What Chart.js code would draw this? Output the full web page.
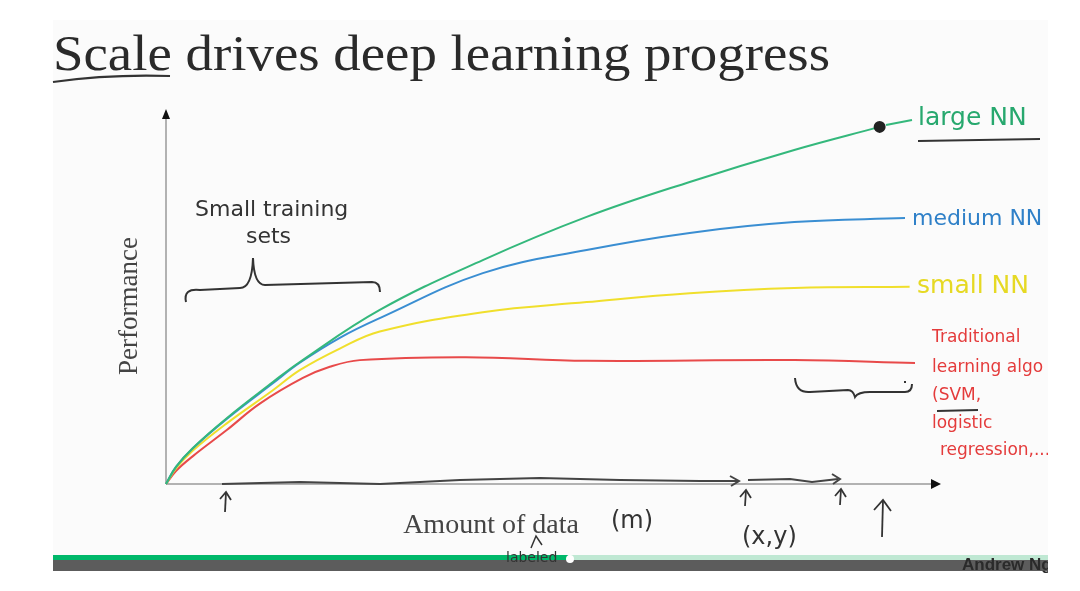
<!DOCTYPE html>
<html>
<head>
<meta charset="utf-8">
<script src="https://cdn.jsdelivr.net/npm/chart.js@4.4.1/dist/chart.umd.min.js"></script>
<style>
  body { margin: 0; background: #fff; }
  #wrap { width: 1080px; height: 591px; position: relative; }
</style>
</head>
<body>
<div id="wrap"><canvas id="scale-chart"></canvas></div>
<script>
/* amount of data (x) and performance (y), both on a 0-100 scale */
const largeAmount = [0, 1.3, 3.5, 7.9, 13.9, 17.4, 27.8, 41.2, 54.7, 68.1, 81.7, 92.8];
const largePerf = [0, 4.6, 9.7, 17.7, 27.4, 32.8, 46.8, 60.2, 71.8, 81.2, 89.8, 96.0];
const mediumAmount = [0, 1.3, 3.5, 7.9, 13.9, 17.4, 22.6, 27.8, 41.2, 54.7, 68.1, 81.7, 96.1];
const mediumPerf = [0, 4.6, 9.6, 17.5, 27.1, 32.6, 39.3, 44.6, 56.7, 62.9, 67.5, 70.4, 71.5];
const smallAmount = [0, 1.3, 3.5, 7.9, 13.9, 17.4, 22.6, 27.8, 41.2, 54.7, 68.1, 81.7, 96.7];
const smallPerf = [0, 4.2, 9.0, 16.3, 25.2, 30.6, 36.4, 41.0, 46.2, 48.9, 51.3, 52.7, 53.0];
const tradAmount = [0, 1.3, 3.5, 7.9, 12.2, 17.8, 21.3, 25.2, 39.0, 54.7, 81.7, 97.4];
const tradPerf = [0, 3.5, 7.5, 14.5, 21.6, 28.5, 31.5, 33.3, 34.1, 33.1, 33.3, 32.5];

const seriesNames = ["large NN", "medium NN", "small NN", "Traditional learning algo"];
const redNotes = ["Traditional", "learning algo", "(SVM,", "logistic", "regression,...)"];

function toPoints(xs, ys) {
  return xs.map((x, i) => ({ x: x, y: ys[i] }));
}

function lineSet(label, xs, ys, color) {
  return {
    label: label,
    data: toPoints(xs, ys),
    borderColor: color,
    borderWidth: 2,
    pointRadius: 0,
    tension: 0.4,
    clip: false,
  };
}

const largeSet = lineSet(seriesNames[0], largeAmount, largePerf, "#34b87c");
/* the black dot at the end of the large net curve */
largeSet.pointRadius = largeAmount.map((_, i) => (i === largeAmount.length - 1 ? 5 : 0));
largeSet.pointBackgroundColor = "#222";
largeSet.pointBorderColor = "#222";

function handLine(ctx, pts, color, width) {
  ctx.strokeStyle = color;
  ctx.lineWidth = width || 2;
  ctx.beginPath();
  ctx.moveTo(pts[0][0], pts[0][1]);
  for (let i = 1; i < pts.length; i++) ctx.lineTo(pts[i][0], pts[i][1]);
  ctx.stroke();
}

function upArrow(ctx, x, y1, y2, head) {
  handLine(ctx, [[x, y2], [x + 1, y1]], "#333", 1.8);
  handLine(ctx, [[x - head, y1 + head + 2], [x + 1, y1], [x + head + 1, y1 + head + 3]], "#333", 1.8);
}

/* slide background, axes and the hand written notes */
const sketchPlugin = {
  id: "sketch",
  beforeDraw(chart) {
    const ctx = chart.ctx;
    ctx.save();
    ctx.fillStyle = "#fbfbfb";
    ctx.fillRect(53, 20, 995, 536);
    ctx.restore();
  },
  beforeDatasetsDraw(chart) {
    const ctx = chart.ctx;
    const a = chart.chartArea;
    ctx.save();
    ctx.strokeStyle = "#9a9a9a";
    ctx.lineWidth = 1.5;
    ctx.beginPath();
    ctx.moveTo(a.left, a.bottom);
    ctx.lineTo(a.left, a.top + 4);
    ctx.moveTo(a.left, a.bottom);
    ctx.lineTo(a.right, a.bottom);
    ctx.stroke();
    ctx.fillStyle = "#111";
    ctx.beginPath();
    ctx.moveTo(a.left, a.top - 3);
    ctx.lineTo(a.left - 4, a.top + 7);
    ctx.lineTo(a.left + 4, a.top + 7);
    ctx.fill();
    ctx.beginPath();
    ctx.moveTo(a.right + 6, a.bottom);
    ctx.lineTo(a.right - 4, a.bottom - 5);
    ctx.lineTo(a.right - 4, a.bottom + 5);
    ctx.fill();
    ctx.restore();
  },
  afterDraw(chart) {
    const ctx = chart.ctx;
    ctx.save();

    // title, stretched to the slide width
    ctx.fillStyle = "#2a2a2a";
    ctx.font = "50px 'Liberation Serif', serif";
    ctx.textBaseline = "alphabetic";
    const title = "Scale drives deep learning progress";
    const w = ctx.measureText(title).width;
    ctx.save();
    ctx.translate(53, 70);
    ctx.scale(777 / w, 1);
    ctx.fillText(title, 0, 0);
    ctx.restore();
    ctx.strokeStyle = "#333";
    ctx.lineWidth = 2.2;
    ctx.beginPath();
    ctx.moveTo(53, 82);
    ctx.quadraticCurveTo(110, 74, 170, 76);
    ctx.stroke();

    // axis titles
    ctx.font = "28px 'Liberation Serif', serif";
    ctx.fillStyle = "#444";
    ctx.textAlign = "center";
    ctx.textBaseline = "middle";
    ctx.fillText("Amount of data", 491, 526);
    ctx.font = "27px 'Liberation Serif', serif";
    ctx.save();
    ctx.translate(130, 306);
    ctx.rotate(-Math.PI / 2);
    ctx.fillText("Performance", 0, 0);
    ctx.restore();

    // labels at the line ends
    ctx.textAlign = "left";
    ctx.font = "25px 'DejaVu Sans', sans-serif";
    handLine(ctx, [[886, 125], [912, 120]], "#34b87c", 2);
    ctx.fillStyle = "#27a86e";
    ctx.fillText(seriesNames[0], 918, 118);
    handLine(ctx, [[918, 141], [1040, 139]], "#333", 2.2);
    ctx.fillStyle = "#2f80c8";
    ctx.font = "22px 'DejaVu Sans', sans-serif";
    ctx.fillText(seriesNames[1], 912, 219);
    ctx.fillStyle = "#e6d924";
    ctx.font = "25px 'DejaVu Sans', sans-serif";
    ctx.fillText(seriesNames[2], 917, 286);

    ctx.save();
    ctx.beginPath();
    ctx.rect(900, 300, 148, 180);
    ctx.clip();
    ctx.fillStyle = "#e43b3b";
    ctx.font = "17px 'DejaVu Sans', sans-serif";
    const redY = [338, 368, 396, 424, 451];
    redNotes.forEach((t, i) => ctx.fillText(t, i === 4 ? 940 : 932, redY[i]));
    ctx.restore();
    handLine(ctx, [[937, 411], [978, 410]], "#333", 2);

    // small training sets
    ctx.fillStyle = "#333";
    ctx.font = "22px 'DejaVu Sans', sans-serif";
    ctx.fillText("Small training", 195, 210);
    ctx.fillText("sets", 246, 237);
    ctx.strokeStyle = "#333";
    ctx.lineWidth = 2;
    ctx.beginPath();
    ctx.moveTo(186, 302);
    ctx.quadraticCurveTo(183, 288, 200, 290);
    ctx.lineTo(240, 288);
    ctx.quadraticCurveTo(252, 288, 253, 258);
    ctx.quadraticCurveTo(254, 285, 265, 285);
    ctx.lineTo(372, 282);
    ctx.quadraticCurveTo(380, 282, 380, 292);
    ctx.stroke();

    // brace under the red curve
    ctx.beginPath();
    ctx.moveTo(795, 378);
    ctx.quadraticCurveTo(796, 393, 810, 392);
    ctx.lineTo(848, 390);
    ctx.quadraticCurveTo(853, 390, 855, 397);
    ctx.quadraticCurveTo(858, 392, 870, 392);
    ctx.lineTo(905, 392);
    ctx.quadraticCurveTo(912, 392, 912, 384);
    ctx.stroke();
    ctx.fillRect(904, 381, 2, 2);

    // wavy arrows along the data axis
    handLine(ctx, [[222, 484], [300, 482], [380, 484], [460, 480], [540, 478], [620, 480], [700, 481], [738, 481]], "#444", 2);
    handLine(ctx, [[730, 476], [739, 481], [731, 486]], "#444", 2);
    handLine(ctx, [[748, 480], [790, 479], [812, 482], [838, 479]], "#444", 2);
    handLine(ctx, [[832, 474], [840, 479], [833, 484]], "#444", 2);
    upArrow(ctx, 225, 492, 512, 5);
    upArrow(ctx, 745, 490, 506, 5);
    upArrow(ctx, 840, 489, 505, 5);
    upArrow(ctx, 882, 500, 537, 8);

    ctx.font = "24px 'DejaVu Sans', sans-serif";
    ctx.fillStyle = "#333";
    ctx.fillText("(m)", 611, 522);
    ctx.fillText("(x,y)", 742, 538);

    // video player strip
    ctx.fillStyle = "#5c5c5c";
    ctx.fillRect(53, 560, 995, 11);
    ctx.fillStyle = "#bfe8d3";
    ctx.fillRect(53, 555, 995, 5);
    ctx.fillStyle = "#00b86a";
    ctx.fillRect(53, 555, 515, 5);
    ctx.fillStyle = "#fff";
    ctx.beginPath();
    ctx.arc(570, 559, 4, 0, Math.PI * 2);
    ctx.fill();

    ctx.fillStyle = "#333";
    ctx.font = "14px 'DejaVu Sans', sans-serif";
    ctx.fillText("labeled", 506, 558);
    handLine(ctx, [[531, 548], [536, 536], [542, 545]], "#333", 1.5);

    ctx.save();
    ctx.beginPath();
    ctx.rect(53, 540, 995, 40);
    ctx.clip();
    ctx.fillStyle = "#2a2a2a";
    ctx.font = "bold 17px 'Liberation Sans', sans-serif";
    ctx.fillText("Andrew Ng", 962, 565);
    ctx.restore();

    ctx.restore();
  },
};

new Chart(document.querySelector("#scale-chart"), {
  type: "line",
  data: {
    datasets: [
      largeSet,
      lineSet(seriesNames[1], mediumAmount, mediumPerf, "#3a8ed2"),
      lineSet(seriesNames[2], smallAmount, smallPerf, "#f0df2c"),
      lineSet(seriesNames[3], tradAmount, tradPerf, "#e84a4a"),
    ],
  },
  options: {
    responsive: true,
    maintainAspectRatio: false,
    animation: false,
    layout: {
      /* plot area matches the sketch axes */
      padding: { left: 166, right: 145, top: 112, bottom: 107 },
    },
    scales: {
      x: { type: "linear", min: 0, max: 100, display: false },
      y: { min: 0, max: 100, display: false },
    },
    plugins: {
      legend: { display: false },
      tooltip: { enabled: false },
    },
  },
  plugins: [sketchPlugin],
});
</script>
</body>
</html>
